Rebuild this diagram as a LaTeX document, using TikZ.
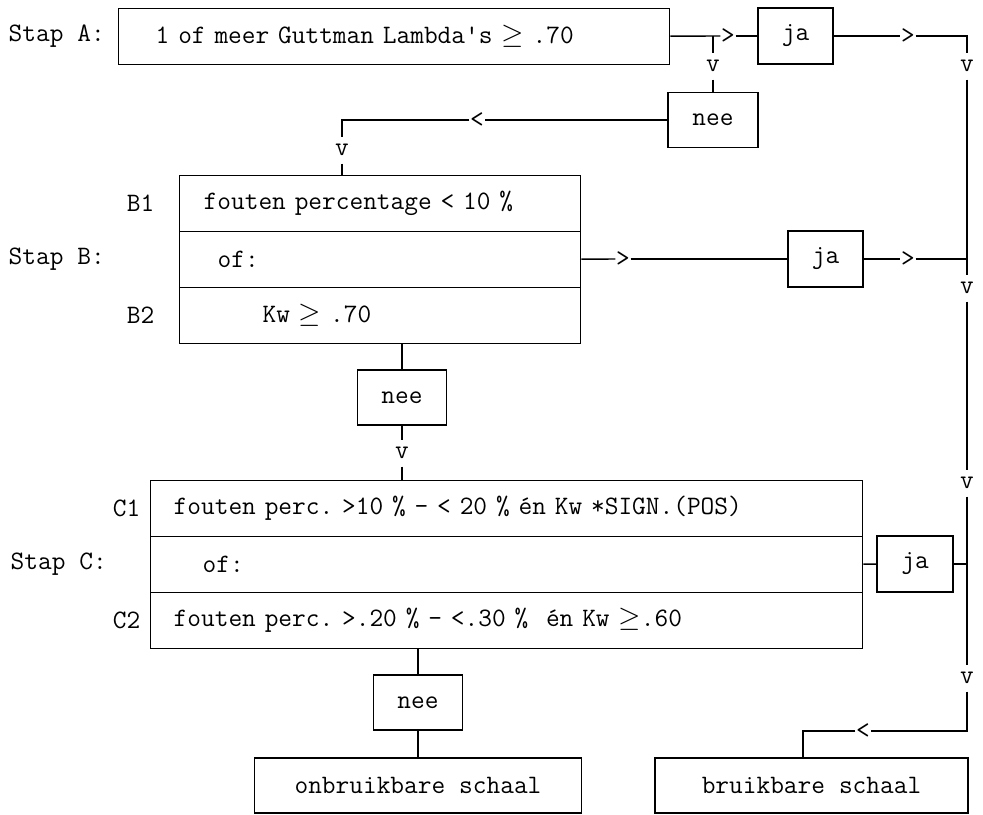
\documentclass[tikz,border=0pt]{standalone}

% typewriter text with fixed width spaces
\newcommand{\twfont}{\ttfamily\fontsize{13.3}{15}\selectfont\frenchspacing\spaceskip=.525em\relax}

\begin{document}
\begin{tikzpicture}[x=0.5pt, y=-0.5pt, line width=0.7pt,
        every node/.style={font=\twfont},
        box/.style={draw, inner sep=0pt, minimum height=28pt},
        row/.style={draw, align=left, inner ysep=0pt, minimum height=28pt, anchor=north west},
        vmark/.style={inner xsep=0pt, inner ysep=3.5pt},
        hmark/.style={inner sep=0pt}]
        \useasboundingbox (0,0) rectangle (983,814);

        % step labels
        \node[anchor=west, inner sep=0pt] (stapA) at (8,36) {Stap A:};
        \node[anchor=west, inner sep=0pt] (stapB) at (8,259) {Stap B:};
        \node[anchor=west, inner sep=0pt] (stapC) at (10,564) {Stap C:};
        \node[anchor=east, inner sep=0pt] (labB1) at (155,203) {B1};
        \node[anchor=east, inner sep=0pt] (labB2) at (155,315) {B2};
        \node[anchor=east, inner sep=0pt] (labC1) at (141,508) {C1};
        \node[anchor=east, inner sep=0pt] (labC2) at (141,620) {C2};

        % boxes
        \node[row, text width=238.5pt, inner xsep=18.5pt] (boxA) at (118,8) {1 of meer Guttman Lambda\textquotesingle s $\geq$ .70};
        \node[box, minimum width=37.5pt] (jaA) at (795.5,36) {ja};
        \node[box, minimum width=45pt, minimum height=27.5pt] (neeA) at (713,120) {nee};

        \node[row, text width=176.5pt, inner xsep=12pt] (b1) at (179,175) {fouten percentage < 10 \%};
        \node[row, text width=162.5pt, inner xsep=19pt] (b2) at (179,231) {of:};
        \node[row, text width=117.5pt, inner xsep=41.5pt] (b3) at (179,287) {Kw $\geq$ .70};
        \node[box, minimum width=37.5pt] (jaB) at (825.5,259) {ja};
        \node[box, minimum width=44.5pt, minimum height=27.5pt] (neeB) at (402,397.5) {nee};

        \node[row, text width=333pt, inner xsep=11.5pt] (c1) at (150,480) {fouten perc. >10 \% - < 20 \% én Kw *SIGN.(POS)};
        \node[row, text width=304pt, inner xsep=26pt] (c2) at (150,536) {of:};
        \node[row, text width=333pt, inner xsep=11.5pt] (c3) at (150,592) {fouten perc. >.20 \% - <.30 \%\ \ én Kw $\geq$.60};
        \node[box, minimum width=38pt] (jaC) at (915,564) {ja};
        \node[box, minimum width=44.5pt, minimum height=27.5pt] (neeC) at (418,702.5) {nee};

        \node[box, minimum width=163.5pt, minimum height=27.5pt] (onbr) at (418,785.5) {onbruikbare schaal};
        \node[box, minimum width=156.5pt, minimum height=27.5pt] (bruik) at (811.5,785.5) {bruikbare schaal};

        % typed arrow heads and corners
        \node[hmark] (gtA) at (728,36) {>};
        \coordinate (tA) at (713,36);
        \node[vmark] (vA) at (713,66) {v};
        \node[hmark] (gtA2) at (908,36) {>};
        \coordinate (cR1) at (967,36);
        \node[vmark] (vR1) at (967,66) {v};
        \node[hmark] (ltA) at (477,120) {<};
        \coordinate (cB) at (342,120);
        \node[vmark] (vB) at (342,150) {v};
        \node[hmark] (gtB) at (623,259) {>};
        \node[hmark] (gtB2) at (908,259) {>};
        \coordinate (jR2) at (967,259);
        \node[vmark] (vR2) at (967,288) {v};
        \node[vmark] (vC) at (402,453) {v};
        \node[vmark] (vR3) at (967,483) {v};
        \coordinate (jR3) at (967,564);
        \node[vmark] (vR4) at (967,678) {v};
        \coordinate (cR5) at (967,731);
        \node[hmark] (ltR) at (863,731) {<};
        \coordinate (cR6) at (803,731);

        % stap A
        \draw (boxA) -- (gtA);
        \draw (gtA) -- (jaA);
        \draw (tA) -- (vA);
        \draw (vA) -- (neeA);
        \draw (jaA) -- (gtA2);
        \draw (gtA2) -- (cR1) -- (vR1);
        \draw (neeA) -- (ltA);
        \draw (ltA) -- (cB) -- (vB);
        \draw (vB) -- (vB |- b1.north);

        % stap B
        \draw (b2) -- (gtB);
        \draw (gtB) -- (jaB);
        \draw (jaB) -- (gtB2);
        \draw (gtB2) -- (jR2);
        \draw (neeB |- b3.south) -- (neeB);
        \draw (neeB) -- (vC);
        \draw (vC) -- (vC |- c1.north);

        % stap C
        \draw (c2) -- (jaC);
        \draw (jaC) -- (jR3);
        \draw (neeC |- c3.south) -- (neeC);
        \draw (neeC) -- (onbr);

        % right hand column
        \draw (vR1) -- (vR2);
        \draw (vR2) -- (vR3);
        \draw (vR3) -- (vR4);
        \draw (vR4) -- (cR5) -- (ltR);
        \draw (ltR) -- (cR6) -- (cR6 |- bruik.north);
    \end{tikzpicture}
\end{document}
